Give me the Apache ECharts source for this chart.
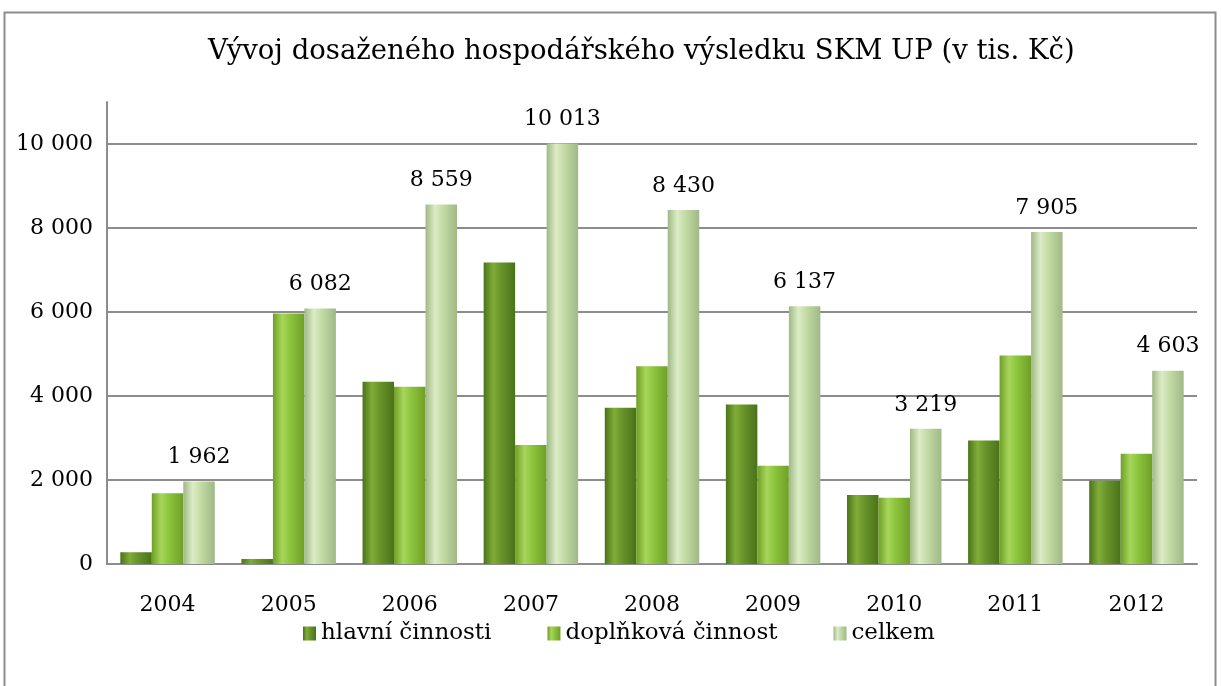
<!DOCTYPE html>
<html>
<head>
<meta charset="utf-8">
<script src="https://cdn.jsdelivr.net/npm/echarts@6/dist/echarts.min.js"></script>
<style>
  html, body { margin: 0; padding: 0; background: #fff; }
  #chart { width: 1221px; height: 686px; }
</style>
</head>
<body>
<div id="chart"></div>
<script>
const years = ['2004', '2005', '2006', '2007', '2008', '2009', '2010', '2011', '2012'];
const hlavni = [280, 120, 4340, 7180, 3720, 3800, 1640, 2940, 1980];
const doplnkova = [1682, 5962, 4219, 2833, 4710, 2337, 1579, 4965, 2623];
const celkem = [1962, 6082, 8559, 10013, 8430, 6137, 3219, 7905, 4603];
const seriesNames = ['hlavní činnosti', 'doplňková činnost', 'celkem'];

const font = 'DejaVu Serif';

// format thousands with a space, e.g. 10 013
function fmt(v) {
    return String(v).replace(/\B(?=(\d{3})+(?!\d))/g, ' ');
}

// cylinder-ish shading: darker edges, light strip left of centre
function barFill(dark, mid, light) {
    return new echarts.graphic.LinearGradient(0, 0, 1, 0, [
        { offset: 0, color: dark },
        { offset: 0.3, color: light },
        { offset: 0.55, color: mid },
        { offset: 1, color: dark }
    ]);
}

const chart = echarts.init(document.getElementById('chart'));

const option = {
    backgroundColor: '#fff',
    animation: false,
    textStyle: { fontFamily: font, color: '#000' },
    title: {
        text: 'Vývoj dosaženého hospodářského výsledku SKM UP (v tis. Kč)',
        left: 203,
        top: 33,
        textStyle: { fontFamily: font, fontSize: 27.5, fontWeight: 'normal', color: '#000' }
    },
    legend: {
        bottom: 36,
        left: 298,
        itemWidth: 13,
        itemHeight: 14,
        itemGap: 56,
        icon: 'rect',
        textStyle: { fontFamily: font, fontSize: 23, color: '#000' },
        data: seriesNames
    },
    grid: { left: 107, right: 24, top: 102, bottom: 122 },
    xAxis: {
        type: 'category',
        data: years,
        axisTick: { show: false },
        axisLine: { lineStyle: { color: '#8c8c8c', width: 2 } },
        axisLabel: { fontFamily: font, fontSize: 22, color: '#000', margin: 30 }
    },
    yAxis: {
        type: 'value',
        min: 0,
        max: 11000,
        interval: 2000,
        axisLine: { show: true, lineStyle: { color: '#8c8c8c', width: 2 } },
        axisTick: { show: false },
        splitLine: { showMaxLine: false, lineStyle: { color: '#8c8c8c', width: 2 } },
        axisLabel: {
            fontFamily: font, fontSize: 22, color: '#000', margin: 14,
            showMaxLabel: false,
            formatter: fmt
        }
    },
    series: [{
        name: seriesNames[0],
        type: 'bar',
        data: hlavni,
        barGap: '0%',
        barCategoryGap: '22%',
        itemStyle: { color: barFill('#4a731a', '#68942a', '#80ad38') }
    }, {
        name: seriesNames[1],
        type: 'bar',
        data: doplnkova,
        itemStyle: { color: barFill('#6f9f26', '#8cc43d', '#a6d65a') }
    }, {
        name: seriesNames[2],
        type: 'bar',
        data: celkem,
        itemStyle: { color: barFill('#9fb886', '#c3dba4', '#dcecc6') },
        label: {
            show: true,
            position: 'top',
            distance: 13,
            fontFamily: font,
            fontSize: 22,
            color: '#000',
            formatter: p => fmt(p.value)
        }
    }],
    graphic: [{
        type: 'rect',
        shape: { x: 4.5, y: 12.5, width: 1211, height: 690 },
        style: { fill: 'none', stroke: '#8c8c8c', lineWidth: 2 },
        silent: true
    }]
};

chart.setOption(option);
</script>
</body>
</html>
